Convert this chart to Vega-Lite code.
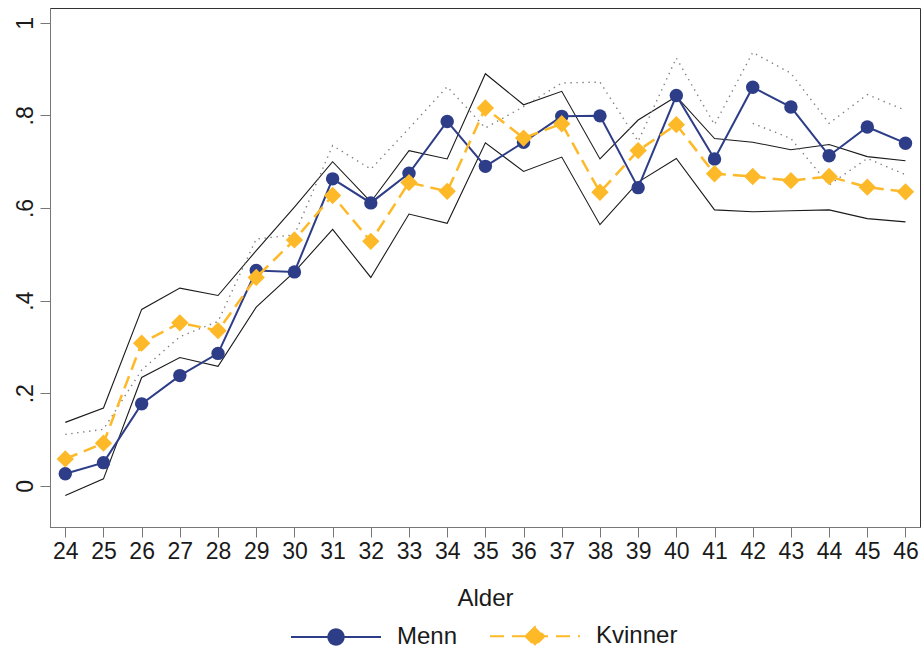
{
  "$schema": "https://vega.github.io/schema/vega-lite/v6.json",
  "width": 870,
  "height": 519,
  "autosize": {"type": "none"},
  "padding": {"left": 50, "top": 8, "right": 3, "bottom": 124},
  "background": "white",
  "config": {
    "view": {"stroke": "#333333", "strokeWidth": 1},
    "font": "Liberation Sans",
    "axis": {
      "grid": false,
      "domainColor": "#777777",
      "tickColor": "#777777",
      "tickSize": 10,
      "labelColor": "#1a1a1a",
      "labelFont": "Liberation Sans",
      "labelFontSize": 23,
      "titleFont": "Liberation Sans",
      "titleFontSize": 24,
      "titleFontWeight": "normal",
      "titleColor": "#1a1a1a"
    }
  },
  "datasets": {
    "ci": [
      {"age": 24, "k_hi": 0.137, "k_lo": -0.021, "m_hi": 0.111, "m_lo": null},
      {"age": 25, "k_hi": 0.168, "k_lo": 0.015, "m_hi": 0.122, "m_lo": null},
      {"age": 26, "k_hi": 0.381, "k_lo": 0.234, "m_hi": 0.250, "m_lo": null},
      {"age": 27, "k_hi": 0.427, "k_lo": 0.277, "m_hi": 0.322, "m_lo": null},
      {"age": 28, "k_hi": 0.411, "k_lo": 0.258, "m_hi": 0.355, "m_lo": null},
      {"age": 29, "k_hi": 0.508, "k_lo": 0.386, "m_hi": 0.533, "m_lo": null},
      {"age": 30, "k_hi": 0.602, "k_lo": 0.462, "m_hi": 0.542, "m_lo": null},
      {"age": 31, "k_hi": 0.700, "k_lo": 0.554, "m_hi": 0.735, "m_lo": null},
      {"age": 32, "k_hi": 0.613, "k_lo": 0.450, "m_hi": 0.684, "m_lo": null},
      {"age": 33, "k_hi": 0.724, "k_lo": 0.587, "m_hi": 0.772, "m_lo": null},
      {"age": 34, "k_hi": 0.706, "k_lo": 0.567, "m_hi": 0.862, "m_lo": null},
      {"age": 35, "k_hi": 0.890, "k_lo": 0.741, "m_hi": 0.773, "m_lo": null},
      {"age": 36, "k_hi": 0.823, "k_lo": 0.679, "m_hi": 0.819, "m_lo": null},
      {"age": 37, "k_hi": 0.852, "k_lo": 0.710, "m_hi": 0.870, "m_lo": null},
      {"age": 38, "k_hi": 0.706, "k_lo": 0.564, "m_hi": 0.872, "m_lo": null},
      {"age": 39, "k_hi": 0.790, "k_lo": 0.656, "m_hi": 0.744, "m_lo": null},
      {"age": 40, "k_hi": 0.841, "k_lo": 0.707, "m_hi": 0.924, "m_lo": null},
      {"age": 41, "k_hi": 0.750, "k_lo": 0.596, "m_hi": 0.780, "m_lo": null},
      {"age": 42, "k_hi": 0.742, "k_lo": 0.592, "m_hi": 0.936, "m_lo": 0.783},
      {"age": 43, "k_hi": 0.726, "k_lo": 0.594, "m_hi": 0.891, "m_lo": 0.750},
      {"age": 44, "k_hi": 0.737, "k_lo": 0.596, "m_hi": 0.783, "m_lo": 0.650},
      {"age": 45, "k_hi": 0.711, "k_lo": 0.577, "m_hi": 0.845, "m_lo": 0.707},
      {"age": 46, "k_hi": 0.702, "k_lo": 0.570, "m_hi": 0.811, "m_lo": 0.672}
    ],
    "menn": [
      {"age": 24, "value": 0.026}, {"age": 25, "value": 0.050}, {"age": 26, "value": 0.177},
      {"age": 27, "value": 0.238}, {"age": 28, "value": 0.286}, {"age": 29, "value": 0.465},
      {"age": 30, "value": 0.462}, {"age": 31, "value": 0.663}, {"age": 32, "value": 0.611},
      {"age": 33, "value": 0.675}, {"age": 34, "value": 0.787}, {"age": 35, "value": 0.690},
      {"age": 36, "value": 0.742}, {"age": 37, "value": 0.798}, {"age": 38, "value": 0.799},
      {"age": 39, "value": 0.644}, {"age": 40, "value": 0.843}, {"age": 41, "value": 0.706},
      {"age": 42, "value": 0.861}, {"age": 43, "value": 0.818}, {"age": 44, "value": 0.713},
      {"age": 45, "value": 0.775}, {"age": 46, "value": 0.740}
    ],
    "kvinner": [
      {"age": 24, "value": 0.058}, {"age": 25, "value": 0.092}, {"age": 26, "value": 0.308},
      {"age": 27, "value": 0.352}, {"age": 28, "value": 0.335}, {"age": 29, "value": 0.450},
      {"age": 30, "value": 0.531}, {"age": 31, "value": 0.627}, {"age": 32, "value": 0.528},
      {"age": 33, "value": 0.655}, {"age": 34, "value": 0.636}, {"age": 35, "value": 0.816},
      {"age": 36, "value": 0.751}, {"age": 37, "value": 0.782}, {"age": 38, "value": 0.634},
      {"age": 39, "value": 0.724}, {"age": 40, "value": 0.780}, {"age": 41, "value": 0.674},
      {"age": 42, "value": 0.668}, {"age": 43, "value": 0.659}, {"age": 44, "value": 0.668},
      {"age": 45, "value": 0.645}, {"age": 46, "value": 0.635}
    ]
  },
  "encoding": {
    "x": {
      "field": "age", "type": "quantitative",
      "scale": {"domain": [23.6, 46.38], "nice": false, "zero": false},
      "axis": {
        "title": "Alder",
        "values": [24,25,26,27,28,29,30,31,32,33,34,35,36,37,38,39,40,41,42,43,44,45,46],
        "format": "d",
        "labelPadding": 3,
        "titlePadding": 23,
        "labelFlush": false,
        "labelOverlap": false
      }
    }
  },
  "layer": [
    {
      "data": {"name": "ci"},
      "mark": {"type": "line", "color": "#1a1a1a", "strokeWidth": 1.1},
      "encoding": {
        "y": {
          "field": "k_hi", "type": "quantitative",
          "scale": {"domain": [-0.089, 1.032], "nice": false, "zero": false},
          "axis": {
            "title": null,
            "values": [0, 0.2, 0.4, 0.6, 0.8, 1],
            "labelExpr": "datum.value == 0 ? '0' : datum.value == 1 ? '1' : replace(format(datum.value, '.1f'), '0.', '.')",
            "labelAngle": -90,
            "labelAlign": "center",
            "labelBaseline": "bottom",
            "labelPadding": 3,
            "labelFlush": false
          }
        }
      }
    },
    {
      "data": {"name": "ci"},
      "mark": {"type": "line", "color": "#1a1a1a", "strokeWidth": 1.1},
      "encoding": {"y": {"field": "k_lo", "type": "quantitative"}}
    },
    {
      "data": {"name": "ci"},
      "mark": {"type": "line", "color": "#808080", "strokeWidth": 1.4, "strokeDash": [1.4, 4.6]},
      "encoding": {"y": {"field": "m_hi", "type": "quantitative"}}
    },
    {
      "data": {"name": "ci"},
      "transform": [{"filter": "isValid(datum.m_lo)"}],
      "mark": {"type": "line", "color": "#808080", "strokeWidth": 1.4, "strokeDash": [1.4, 4.6]},
      "encoding": {"y": {"field": "m_lo", "type": "quantitative"}}
    },
    {
      "data": {"name": "menn"},
      "mark": {"type": "line", "strokeWidth": 2},
      "encoding": {
        "y": {"field": "value", "type": "quantitative"},
        "color": {
          "datum": "Menn",
          "scale": {"domain": ["Menn", "Kvinner"], "range": ["#2E3D87", "#FDB927"]},
          "legend": {
            "title": null,
            "orient": "none",
            "direction": "horizontal",
            "legendX": 240,
            "legendY": 582,
            "padding": 0,
            "symbolSize": 8100,
            "symbolType": "stroke",
            "labelFont": "Liberation Sans",
            "labelFontSize": 24,
            "labelColor": "#1a1a1a",
            "labelOffset": 15,
            "columnPadding": 28,
            "encode": {
              "symbols": {
                "update": {
                  "shape": {"signal": "datum.value === 'Menn' ? 'M-1,0H1M-0.17,0A0.17,0.17,0,1,0,0.17,0A0.17,0.17,0,1,0,-0.17,0Z' : 'M-1,0H1M-0.21,0L0,-0.21L0.21,0L0,0.21Z'"},
                  "fill": {"scale": "color", "field": "value"},
                  "stroke": {"scale": "color", "field": "value"},
                  "strokeWidth": {"value": 2},
                  "strokeDash": {"signal": "datum.value === 'Kvinner' ? [14, 8] : [1, 0]"},
                  "opacity": {"value": 1}
                }
              }
            }
          }
        }
      }
    },
    {
      "data": {"name": "menn"},
      "mark": {"type": "point", "shape": "circle", "filled": true, "opacity": 1, "size": 180},
      "encoding": {
        "y": {"field": "value", "type": "quantitative"},
        "color": {"datum": "Menn"}
      }
    },
    {
      "data": {"name": "kvinner"},
      "mark": {"type": "line", "strokeWidth": 2.5, "strokeDash": [13, 7]},
      "encoding": {
        "y": {"field": "value", "type": "quantitative"},
        "color": {"datum": "Kvinner"}
      }
    },
    {
      "data": {"name": "kvinner"},
      "mark": {"type": "point", "shape": "diamond", "filled": true, "opacity": 1, "size": 300},
      "encoding": {
        "y": {"field": "value", "type": "quantitative"},
        "color": {"datum": "Kvinner"}
      }
    }
  ]
}
